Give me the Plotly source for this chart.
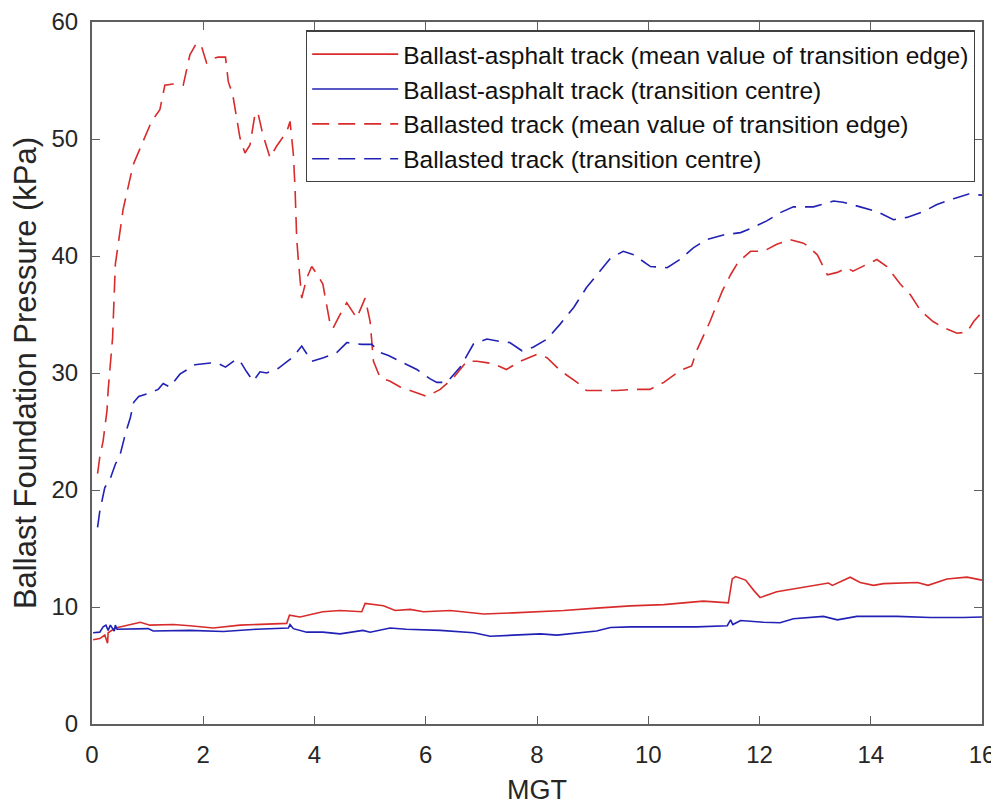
import plotly.graph_objects as go

# Ballast-asphalt track (mean value of transition edge) - red solid
asph_edge_x = [0.02, 0.14, 0.23, 0.28, 0.29, 0.42, 0.56, 0.87, 1.04, 1.46, 1.76, 2.18, 2.66, 3.50, 3.55, 3.74,
               4.15, 4.46, 4.85, 4.91, 5.24, 5.45, 5.72, 5.96, 6.44, 7.04, 7.57, 8.06, 8.48, 9.07, 9.68, 10.28,
               10.57, 10.99, 11.44, 11.51, 11.57, 11.75, 11.90, 12.01, 12.31, 12.67, 12.97, 13.24, 13.31, 13.63,
               13.81, 14.05, 14.23, 14.84, 15.03, 15.37, 15.73, 16.00]
asph_edge_y = [7.2, 7.3, 7.6, 6.9, 7.8, 8.2, 8.35, 8.7, 8.45, 8.5, 8.4, 8.2, 8.45, 8.6, 9.3, 9.15,
               9.6, 9.7, 9.6, 10.3, 10.1, 9.7, 9.8, 9.6, 9.7, 9.4, 9.5, 9.6, 9.7, 9.9, 10.1, 10.2,
               10.3, 10.5, 10.35, 12.4, 12.6, 12.3, 11.4, 10.8, 11.3, 11.6, 11.85, 12.05, 11.85, 12.55,
               12.1, 11.85, 12.0, 12.1, 11.85, 12.4, 12.55, 12.3]

# Ballast-asphalt track (transition centre) - blue solid
asph_centre_x = [0.02, 0.14, 0.20, 0.25, 0.29, 0.33, 0.40, 0.42, 0.45, 0.87, 1.01, 1.10, 1.76, 2.36, 2.96, 3.53,
                 3.56, 3.62, 3.86, 4.15, 4.46, 4.87, 5.00, 5.36, 5.65, 6.26, 6.86, 7.16, 7.75, 8.06, 8.36, 9.07,
                 9.32, 9.68, 10.28, 10.87, 11.42, 11.48, 11.52, 11.66, 12.07, 12.37, 12.61, 13.15, 13.40, 13.75,
                 14.47, 15.07, 15.67, 16.00]
asph_centre_y = [7.8, 7.85, 8.3, 8.45, 8.0, 8.45, 7.95, 8.45, 8.1, 8.15, 8.15, 7.95, 8.0, 7.9, 8.1, 8.2,
                 8.5, 8.15, 7.85, 7.85, 7.7, 8.0, 7.85, 8.2, 8.1, 8.0, 7.8, 7.5, 7.6, 7.7, 7.6, 7.95,
                 8.25, 8.3, 8.3, 8.3, 8.4, 8.9, 8.5, 8.85, 8.7, 8.65, 9.0, 9.2, 8.9, 9.2,
                 9.2, 9.1, 9.1, 9.15]

# Ballasted track (mean value of transition edge) - red dashed
bal_edge_x = [0.10, 0.14, 0.20, 0.27, 0.29, 0.33, 0.37, 0.42, 0.56, 0.74, 0.89, 1.07, 1.22, 1.31, 1.46, 1.64,
              1.76, 1.88, 1.97, 2.06, 2.18, 2.27, 2.40, 2.45, 2.53, 2.60, 2.66, 2.75, 2.84, 2.93, 2.98, 3.07,
              3.20, 3.32, 3.50, 3.56, 3.62, 3.65, 3.68, 3.71, 3.77, 3.86, 3.95, 4.05, 4.15, 4.28, 4.33, 4.46,
              4.58, 4.76, 4.91, 5.00, 5.06, 5.18, 5.36, 5.54, 5.72, 6.02, 6.26, 6.50, 6.74, 6.92, 7.21, 7.45,
              7.70, 8.00, 8.18, 8.42, 8.72, 8.89, 9.13, 9.44, 9.74, 10.03, 10.28, 10.57, 10.78, 10.87, 11.11,
              11.33, 11.48, 11.62, 11.84, 12.07, 12.31, 12.55, 12.79, 12.88, 13.04, 13.22, 13.40, 13.57, 13.68,
              13.93, 14.11, 14.29, 14.53, 14.71, 14.90, 15.12, 15.30, 15.55, 15.73, 15.85, 16.00]
bal_edge_y = [21.4, 22.8, 24.2, 26.8, 28.5, 30.8, 33.0, 39.3, 44.0, 47.8, 49.5, 51.5, 52.5, 54.6, 54.7, 54.6,
              57.2, 58.2, 57.9, 56.5, 56.9, 57.0, 57.0, 54.9, 53.8, 51.8, 50.1, 48.8, 49.5, 52.1, 52.3, 50.4,
              48.4, 49.4, 50.6, 51.5, 48.7, 45.8, 41.5, 39.6, 36.4, 38.1, 39.1, 38.4, 37.6, 34.2, 33.8, 35.0,
              36.0, 34.7, 36.4, 34.4, 31.0, 29.6, 29.3, 28.8, 28.5, 28.0, 28.6, 29.6, 31.0, 31.0, 30.8, 30.3,
              31.0, 31.6, 31.3, 30.2, 29.2, 28.5, 28.5, 28.5, 28.6, 28.6, 29.2, 30.2, 30.6, 31.9, 34.4,
              37.0, 38.4, 39.5, 40.4, 40.4, 41.0, 41.4, 41.1, 40.8, 40.1, 38.4, 38.6, 39.0, 38.7,
              39.3, 39.7, 39.1, 37.6, 36.7, 35.3, 34.4, 33.9, 33.4, 33.5, 34.4, 35.2]

# Ballasted track (transition centre) - blue dashed
bal_centre_x = [0.10, 0.14, 0.23, 0.33, 0.42, 0.51, 0.60, 0.69, 0.75, 0.84, 0.98, 1.19, 1.28, 1.40, 1.58, 1.85,
                2.13, 2.25, 2.40, 2.60, 2.69, 2.78, 2.90, 3.02, 3.14, 3.35, 3.62, 3.77, 3.95, 4.16, 4.40, 4.58,
                4.85, 5.03, 5.18, 5.33, 5.54, 5.84, 6.08, 6.20, 6.38, 6.62, 6.86, 7.10, 7.33, 7.51, 7.73, 7.93,
                8.18, 8.42, 8.66, 8.89, 9.13, 9.32, 9.55, 9.74, 10.04, 10.34, 10.57, 10.81, 11.05, 11.35, 11.66,
                11.87, 12.13, 12.37, 12.61, 12.97, 13.33, 13.50, 13.81, 14.11, 14.41, 14.65, 14.95, 15.19, 15.49,
                15.76, 16.00]
bal_centre_y = [16.8, 18.2, 20.2, 21.0, 22.2, 23.1, 24.8, 26.2, 27.5, 28.0, 28.2, 28.6, 29.1, 28.8, 29.9, 30.7,
                30.85, 30.85, 30.5, 31.2, 30.8, 30.1, 29.3, 30.1, 30.0, 30.4, 31.4, 32.3, 31.0, 31.3, 31.75, 32.6,
                32.45, 32.45, 31.75, 31.5, 31.0, 30.3, 29.5, 29.2, 29.2, 30.5, 32.5, 32.9, 32.7, 32.6, 31.9, 32.2,
                32.9, 34.2, 35.6, 37.3, 38.7, 39.8, 40.4, 40.1, 39.1, 39.0, 39.7, 40.7, 41.4, 41.8, 42.0,
                42.4, 43.0, 43.7, 44.2, 44.2, 44.7, 44.6, 44.2, 43.8, 43.1, 43.3, 43.8, 44.4, 44.9,
                45.3, 45.2]

x_ticks = [0, 2, 4, 6, 8, 10, 12, 14, 16]
y_ticks = [0, 10, 20, 30, 40, 50, 60]

RED = "#d82b2b"
BLUE = "#2121b5"
FONT = "Liberation Sans, Arial, sans-serif"
DASH = "17px,9px"

series = [
    ("Ballast-asphalt track (mean value of transition edge)", asph_edge_x, asph_edge_y, RED, "solid"),
    ("Ballast-asphalt track (transition centre)", asph_centre_x, asph_centre_y, BLUE, "solid"),
    ("Ballasted track (mean value of transition edge)", bal_edge_x, bal_edge_y, RED, DASH),
    ("Ballasted track (transition centre)", bal_centre_x, bal_centre_y, BLUE, DASH),
]

fig = go.Figure()
for i, (name, xs, ys, col, dash) in enumerate(series):
    fig.add_trace(go.Scatter(x=xs, y=ys, mode="lines", name=name, legendgroup=f"g{i}",
                             line=dict(color=col, width=1.6, dash=dash)))

axis_common = dict(
    showline=True, linecolor="#5f5f5f", linewidth=2, mirror="ticks",
    ticks="inside", ticklen=8, tickwidth=1.3, tickcolor="#5f5f5f",
    showgrid=False, zeroline=False, ticklabeloverflow="allow",
    tickfont=dict(family=FONT, size=24, color="#262626"),
)

fig.update_xaxes(range=[0, 16], tickvals=x_ticks, ticktext=[str(v) for v in x_ticks],
                 title=dict(text="MGT", font=dict(family=FONT, size=27, color="#262626"), standoff=13),
                 ticklabelstandoff=8, **axis_common)
fig.update_yaxes(range=[0, 60], tickvals=y_ticks, ticktext=[str(v) for v in y_ticks],
                 title=dict(text="Ballast Foundation Pressure (kPa)",
                            font=dict(family=FONT, size=31, color="#262626"), standoff=8),
                 ticklabelstandoff=7, **axis_common)

fig.update_layout(
    width=991, height=799,
    margin=dict(l=84, r=17, t=14, b=83, autoexpand=False),
    paper_bgcolor="white", plot_bgcolor="white",
    showlegend=True,
    legend=dict(
        x=0.992, y=0.988, xanchor="right", yanchor="top",
        bgcolor="white", bordercolor="#404040", borderwidth=1.3,
        font=dict(family=FONT, size=24.5, color="#111111"),
        itemwidth=86, tracegroupgap=0,
        traceorder="normal",
    ),
)

fig.write_html("out.html")
